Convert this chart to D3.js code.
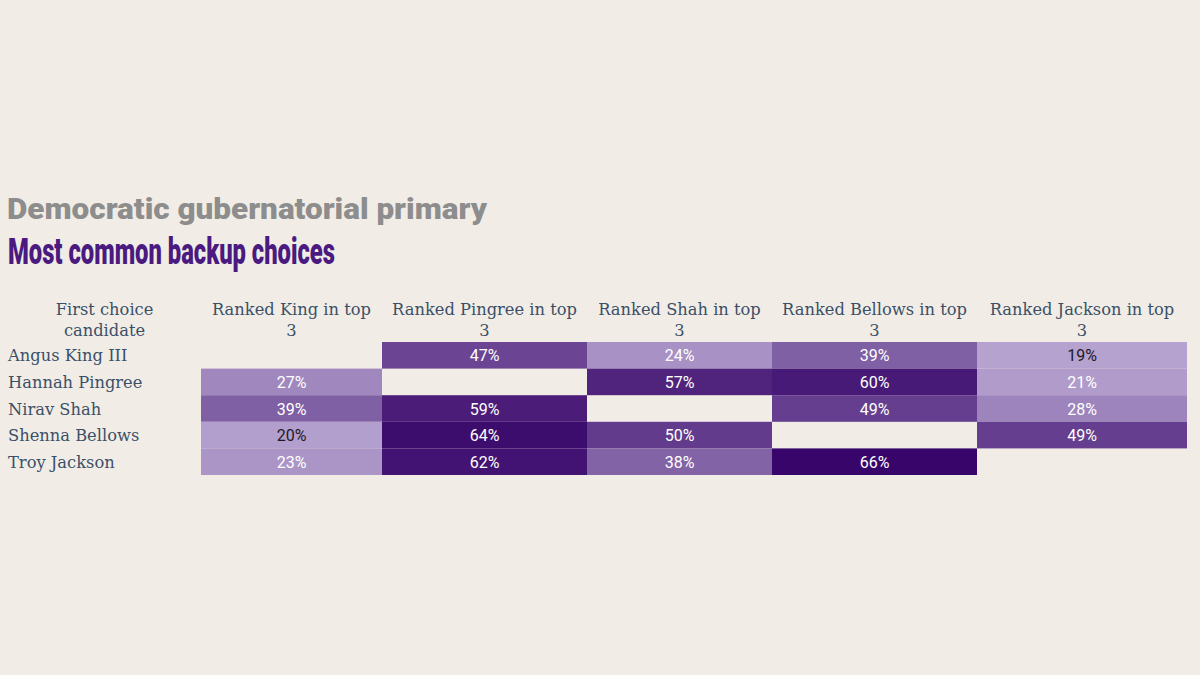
<!DOCTYPE html>
<html>
<head>
<meta charset="utf-8">
<script src="https://cdn.jsdelivr.net/npm/d3@7"></script>
<style>
  html, body { margin: 0; padding: 0; background: #f1ede6; }
  svg { display: block; }
</style>
</head>
<body>
<div id="chart"></div>
<script>
// data
const firstChoice = ["Angus King III", "Hannah Pingree", "Nirav Shah", "Shenna Bellows", "Troy Jackson"];
const backups = ["King", "Pingree", "Shah", "Bellows", "Jackson"];
const rankedKing = [null, 27, 39, 20, 23];
const rankedPingree = [47, null, 59, 64, 62];
const rankedShah = [24, 57, null, 50, 38];
const rankedBellows = [39, 60, 49, null, 66];
const rankedJackson = [19, 21, 28, 49, null];

const series = [rankedKing, rankedPingree, rankedShah, rankedBellows, rankedJackson];

// layout
const width = 1200, height = 675;
const labelColW = 201;
const colWidths = [181, 205, 185, 205, 210];
const tableTop = 342, rowH = 26.6;

const svg = d3.select("#chart").append("svg")
  .attr("width", width)
  .attr("height", height);

svg.append("rect").attr("width", width).attr("height", height).attr("fill", "#f1ede6");

// titles
svg.append("text")
  .attr("x", 7).attr("y", 219)
  .attr("font-family", "Roboto, sans-serif")
  .attr("font-weight", 900)
  .attr("font-size", 30)
  .attr("textLength", 480)
  .attr("lengthAdjust", "spacingAndGlyphs")
  .attr("fill", "#8d8d8d")
  .text("Democratic gubernatorial primary");

svg.append("text")
  .attr("x", 8).attr("y", 264)
  .attr("font-family", "Roboto, sans-serif")
  .attr("font-weight", 900)
  .attr("font-size", 36)
  .attr("textLength", 327)
  .attr("lengthAdjust", "spacingAndGlyphs")
  .attr("fill", "#4a1a80")
  .text("Most common backup choices");

// scales
const colStarts = [];
colWidths.reduce((acc, w) => { colStarts.push(acc); return acc + w; }, labelColW);
const x = d3.scaleOrdinal().domain(backups).range(colStarts);
const w = d3.scaleOrdinal().domain(backups).range(colWidths);
const y = d3.scaleBand().domain(firstChoice).range([tableTop, tableTop + rowH * firstChoice.length]);

const allVals = series.flat().filter(v => v != null);
const color = d3.scaleLinear()
  .domain(d3.extent(allVals))
  .range(["#b5a2cf", "#38066a"])
  .interpolate(d3.interpolateRgb);

const textCol = "#3b5068";
const serif = "'DejaVu Serif', serif";
const serifSize = 16.3;

// header
const header = svg.append("g").attr("font-family", serif).attr("font-size", serifSize)
  .attr("fill", textCol).attr("text-anchor", "middle");

header.append("text").attr("x", labelColW / 2 + 4).attr("y", 315).text("First choice");
header.append("text").attr("x", labelColW / 2 + 4).attr("y", 336).text("candidate");

backups.forEach(b => {
  const cx = x(b) + w(b) / 2;
  header.append("text").attr("x", cx).attr("y", 315).text(`Ranked ${b} in top`);
  header.append("text").attr("x", cx).attr("y", 336).text("3");
});

// row labels
svg.append("g").selectAll("text")
  .data(firstChoice)
  .join("text")
  .attr("x", 8)
  .attr("y", d => y(d) + y.bandwidth() / 2 + 6)
  .attr("font-family", serif)
  .attr("font-size", serifSize)
  .attr("fill", textCol)
  .text(d => d);

// cells
const cells = [];
series.forEach((vals, j) => {
  vals.forEach((v, i) => {
    if (v != null) cells.push({ row: firstChoice[i], col: backups[j], value: v });
  });
});

const g = svg.append("g");
g.selectAll("rect")
  .data(cells)
  .join("rect")
  .attr("x", d => x(d.col))
  .attr("y", d => y(d.row))
  .attr("width", d => w(d.col))
  .attr("height", y.bandwidth())
  .attr("fill", d => color(d.value));

g.selectAll("text")
  .data(cells)
  .join("text")
  .attr("x", d => x(d.col) + w(d.col) / 2)
  .attr("y", d => y(d.row) + y.bandwidth() / 2 + 6)
  .attr("text-anchor", "middle")
  .attr("font-family", "Roboto, 'Liberation Sans', sans-serif")
  .attr("font-size", 16)
  .attr("fill", d => d.value <= 20 ? "#1e1a26" : "#ffffff")
  .text(d => d.value + "%");
</script>
</body>
</html>
